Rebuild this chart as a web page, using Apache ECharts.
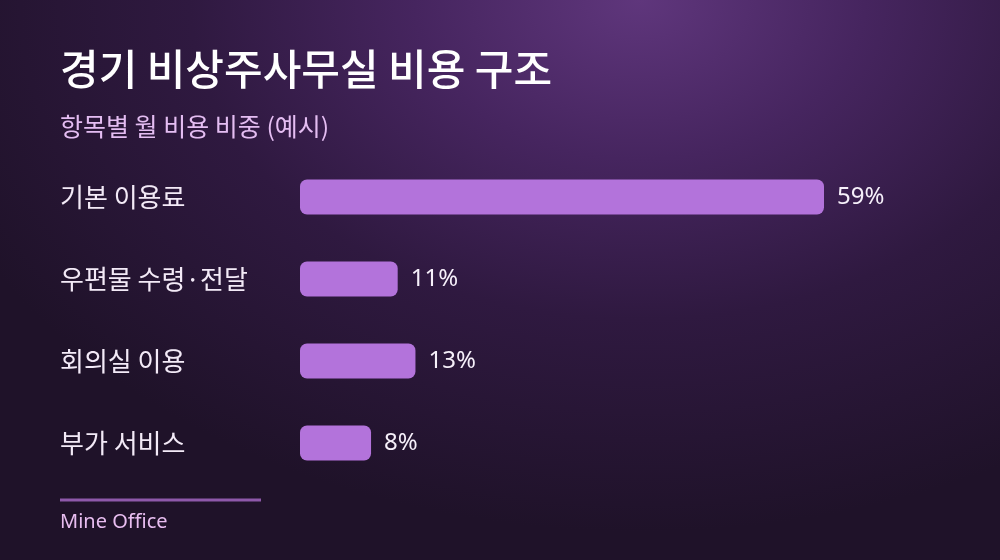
<!DOCTYPE html>
<html>
<head>
<meta charset="utf-8">
<script src="https://cdn.jsdelivr.net/npm/echarts@6/dist/echarts.min.js"></script>
<style>
html,body{margin:0;padding:0;width:1000px;height:560px;overflow:hidden;}
#wrap{width:1000px;height:560px;background:
 radial-gradient(ellipse 75% 95% at 64% 0%, #5f367c 0%, #46255f 30%, #2f1940 60%, #1f1229 100%);}
#chart{width:1000px;height:560px;}
</style>
</head>
<body>
<div id="wrap"><div id="chart"></div></div>
<script>
const titleText = '경기 비상주사무실 비용 구조';
const subtitleText = '항목별 월 비용 비중 (예시)';
const sourceText = 'Mine Office';
const categories = ['기본 이용료', '우편물 수령·전달', '회의실 이용', '부가 서비스'];
const values = [59, 11, 13, 8];

const chart = echarts.init(document.getElementById('chart'), null, {renderer: 'canvas'});
const CJK = '"Noto Sans CJK KR", "Noto Sans", sans-serif';
chart.setOption({
  backgroundColor: 'transparent',
  animation: false,
  grid: {left: 300, right: 176, top: 156, bottom: 76, containLabel: false},
  xAxis: {
    type: 'value', min: 0, max: 59,
    show: false
  },
  yAxis: {
    type: 'category',
    data: categories,
    inverse: true,
    axisLine: {show: false},
    axisTick: {show: false},
    splitLine: {show: false},
    axisLabel: {
      color: '#f3eaf7',
      fontSize: 26,
      fontFamily: CJK,
      align: 'left',
      margin: 240,
      padding: [0, 0, 10, 0]
    }
  },
  series: [{
    type: 'bar',
    data: values,
    barWidth: 35,
    itemStyle: {color: '#b373db', borderRadius: 7},
    label: {
      show: true,
      position: 'right',
      distance: 13,
      color: '#f6f0fa',
      fontSize: 24,
      fontFamily: '"Noto Sans", sans-serif',
      formatter: p => p.value + '%'
    }
  }],
  graphic: [
    {type: 'text', style: {text: titleText, x: 60, y: 69, verticalAlign: 'middle', fill: '#ffffff', fontSize: 42, fontWeight: 500, fontFamily: CJK}},
    {type: 'text', style: {text: subtitleText, x: 60, y: 126, verticalAlign: 'middle', fill: '#e4bdf2', fontSize: 25, fontFamily: CJK}},
    {type: 'rect', shape: {x: 60, y: 498.5, width: 201, height: 3}, style: {fill: '#8e58aa'}},
    {type: 'text', style: {text: sourceText, x: 60, y: 522, verticalAlign: 'middle', fill: '#e8bdf0', fontSize: 20, fontFamily: '"Noto Sans", sans-serif'}}
  ]
});
</script>
</body>
</html>
